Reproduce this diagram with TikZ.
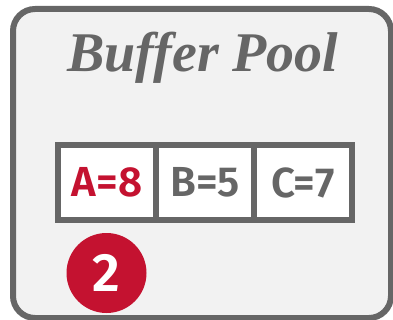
\documentclass[tikz,border=0pt]{standalone}
\usepackage{fontspec}
\newfontfamily\cellfont{Fira Sans}[UprightFont=* Medium, BoldFont=* SemiBold]
\newfontfamily\titlefont{Liberation Serif}
\definecolor{bpgray}{HTML}{666666}
\definecolor{bpfill}{HTML}{F2F2F2}
\definecolor{bpred}{HTML}{C41230}
\begin{document}
\begin{tikzpicture}[x=1pt,y=-1pt,
  poolbox/.style={draw=bpgray,fill=bpfill,line width=6pt,rounded corners=22pt},
  cell/.style={draw=bpgray,fill=white,line width=6pt,minimum width=98pt,minimum height=75pt,inner sep=0pt,font=\cellfont\bfseries\fontsize{42}{42}\selectfont,text=bpgray},
  badge/.style={circle,fill=bpred,minimum size=80pt,inner sep=0pt,text=white,font=\cellfont\bfseries\fontsize{54}{54}\selectfont}]
\useasboundingbox (0,0) rectangle (393,320);
\draw[poolbox] (13,9) rectangle (391,318);
\node[font=\titlefont\bfseries\itshape\fontsize{56}{56}\selectfont,text=bpgray,anchor=base] (title) at (203,72) {Buffer Pool};
\node[cell,text=bpred] (a) at (107,182.5) {A=8};
\node[cell] (b) at (205,182.5) {B=5};
\node[cell] (c) at (303,182.5) {C=7};
\node[badge] (n2) at (106.5,273) {2};
\end{tikzpicture}
\end{document}
